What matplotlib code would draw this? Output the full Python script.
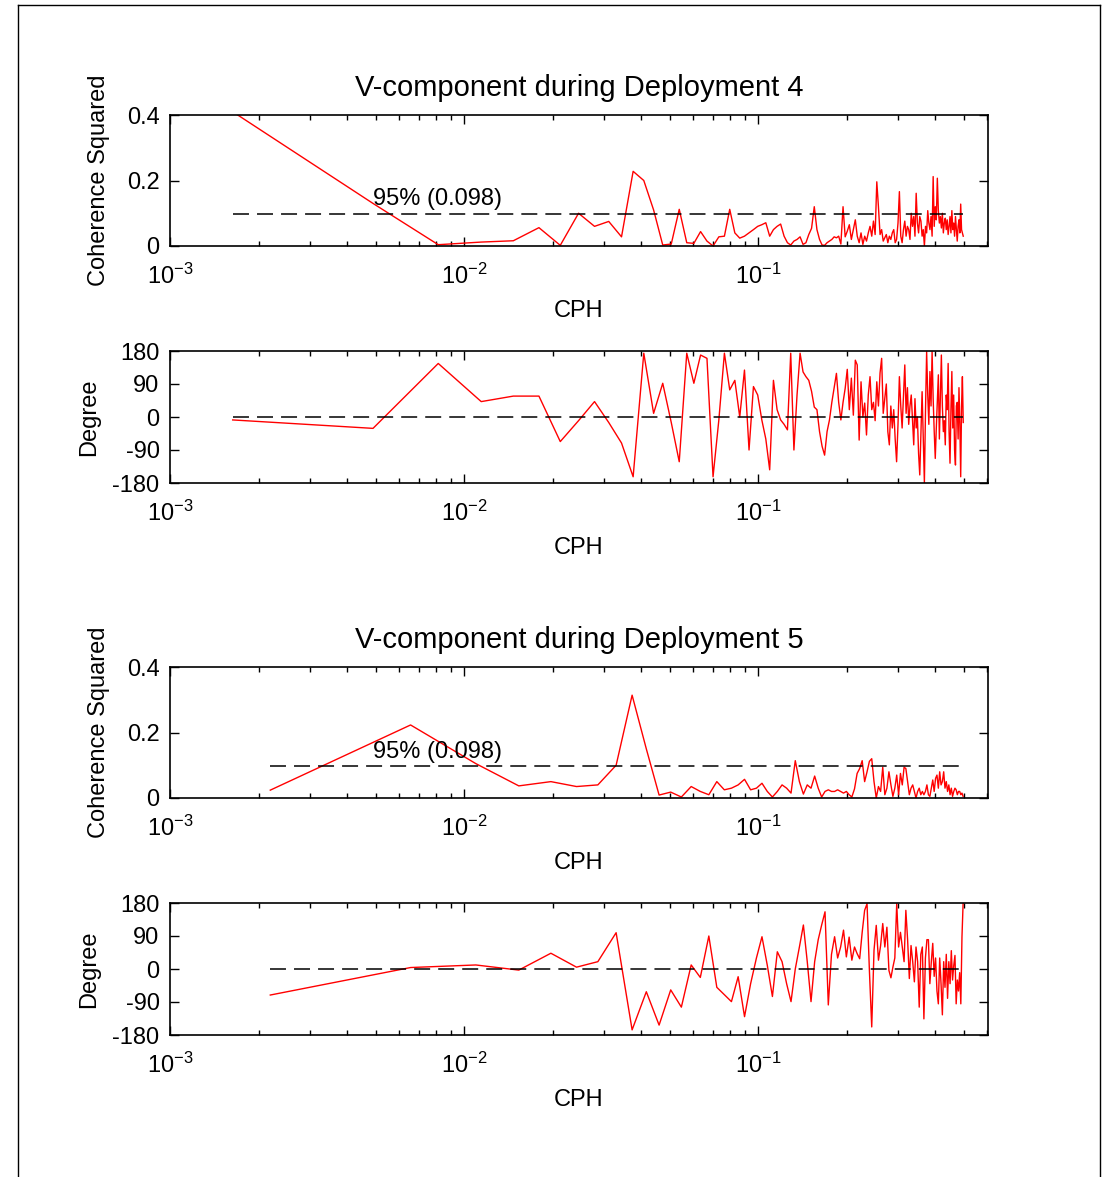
import numpy as np
import matplotlib
matplotlib.use('Agg')
import matplotlib.pyplot as plt
from matplotlib.ticker import FixedLocator, LogLocator, NullFormatter, FuncFormatter
from matplotlib.lines import Line2D

plt.rcParams['font.family'] = ['Liberation Sans', 'DejaVu Sans']
plt.rcParams['mathtext.fontset'] = 'custom'
plt.rcParams['mathtext.rm'] = 'Liberation Sans'
plt.rcParams['mathtext.it'] = 'Liberation Sans:italic'
plt.rcParams['mathtext.bf'] = 'Liberation Sans:bold'
plt.rcParams['axes.unicode_minus'] = False
plt.rcParams['lines.scale_dashes'] = False

# ---------------- data ----------------
# frequency bands (cycles per hour): band centres (k+0.5)*df
n_bands4 = 153
band_width4 = 1 / 306
n_bands5 = 114
band_width5 = 1 / 228
freq4 = (np.arange(n_bands4) + 0.5) * band_width4
freq5 = (np.arange(n_bands5) + 0.5) * band_width5

conf95 = 0.098
titles = ["V-component during Deployment 4", "V-component during Deployment 5"]
coh_ticks = [0, 0.2, 0.4]
coh_ticklabels = ["0", "0.2", "0.4"]
deg_ticks = [-180, -90, 0, 90, 180]
deg_ticklabels = ["-180", "-90", "0", "90", "180"]

coh4 = [0.41, 0.13, 0.004, 0.012, 0.016, 0.056, 0.002, 0.10, 0.06, 0.075,
        0.028, 0.228, 0.20, 0.11, 0.003, 0.006, 0.112, 0.01, 0.008, 0.044,
        0.015, 0.0, 0.028, 0.03, 0.112, 0.04, 0.024, 0.03, 0.04, 0.05,
        0.06, 0.065, 0.071, 0.03, 0.05, 0.06, 0.067, 0.03, 0.01, 0.003,
        0.015, 0.02, 0.028, 0.005, 0.01, 0.035, 0.054, 0.12, 0.05, 0.02,
        0.003, 0.002, 0.01, 0.015, 0.02, 0.028, 0.025, 0.03, 0.006, 0.12,
        0.028, 0.045, 0.065, 0.02, 0.05, 0.08, 0.03, 0.01, 0.04, 0.005,
        0.03, 0.015, 0.04, 0.06, 0.03, 0.076, 0.035, 0.196, 0.12, 0.035,
        0.05, 0.015, 0.025, 0.035, 0.01, 0.03, 0.02, 0.04, 0.05, 0.01,
        0.02, 0.07, 0.166, 0.03, 0.01, 0.05, 0.076, 0.03, 0.06, 0.05,
        0.02, 0.10, 0.06, 0.09, 0.03, 0.161, 0.07, 0.04, 0.09, 0.076,
        0.03, 0.05, 0.0, 0.06, 0.04, 0.108, 0.07, 0.05, 0.09, 0.03,
        0.212, 0.06, 0.12, 0.08, 0.207, 0.108, 0.07, 0.09, 0.055, 0.10,
        0.04, 0.07, 0.085, 0.05, 0.08, 0.035, 0.06, 0.09, 0.04, 0.108,
        0.05, 0.07, 0.03, 0.09, 0.05, 0.015, 0.06, 0.08, 0.04, 0.128,
        0.05, 0.04, 0.03]

phase4 = [-8, -31, 146, 42, 57, 57, -67, -10, 42, -15,
          -71, -163, 174, 10, 92, -15, -122, 174, 92, 169,
          160, -163, -8, 174, 74, 100, 0, 128, -90, 83,
          60, -8, -60, -144, 100, 20, -8, -20, -35, 174,
          -90, 60, 174, 123, 110, 100, 70, 27, 20, -40,
          -80, -104, -40, -8, 40, 80, 119, 40, -8, 40,
          78, 130, 20, 106, 5, 155, 142, -63, 96, 0,
          38, -49, 60, 110, 20, 40, -10, 96, 30, 120,
          160, 10, 50, 90, -40, -76, 30, -30, 20, -60,
          -122, -20, 110, 30, -30, 60, 142, 10, 80, -20,
          30, 60, -10, -76, 50, -30, 0, -100, -158, -40,
          69, -60, -180, 20, 178, 60, -20, 124, 30, 178,
          50, -40, -113, -30, 40, 115, -60, 60, 169, 30,
          -40, -10, -76, 60, 20, 146, -40, -126, 20, 124,
          -30, 60, -90, -131, 30, 40, -60, 80, -20, -163,
          30, 110, -15]

coh5 = [0.024, 0.223, 0.105, 0.037, 0.05, 0.035, 0.04, 0.10, 0.314, 0.15,
        0.009, 0.018, 0.003, 0.035, 0.02, 0.01, 0.05, 0.025, 0.03, 0.04,
        0.057, 0.025, 0.03, 0.045, 0.02, 0.003, 0.02, 0.04, 0.03, 0.015,
        0.114, 0.05, 0.012, 0.04, 0.03, 0.067, 0.03, 0.003, 0.02, 0.025,
        0.02, 0.02, 0.025, 0.02, 0.015, 0.02, 0.01, 0.003, 0.028, 0.075,
        0.09, 0.114, 0.05, 0.08, 0.112, 0.12, 0.05, 0.0, 0.035, 0.02,
        0.094, 0.01, 0.03, 0.08, 0.04, 0.005, 0.03, 0.07, 0.01, 0.075,
        0.04, 0.094, 0.09, 0.05, 0.01, 0.03, 0.04, 0.02, 0.0, 0.02,
        0.03, 0.01, 0.02, 0.01, 0.02, 0.04, 0.01, 0.005, 0.03, 0.055,
        0.02, 0.06, 0.07, 0.03, 0.08, 0.04, 0.05, 0.08, 0.03, 0.05,
        0.02, 0.04, 0.01, 0.03, 0.005, 0.02, 0.03, 0.025, 0.01, 0.02,
        0.02, 0.01, 0.015, 0.005]

phase5 = [-71, 4, 11, -3, 43, 5, 20, 99, -166, -62,
          -153, -57, -104, 11, -23, 90, -50, -70, -89, -21,
          -130, -40, 30, 88, 10, -75, 47, 20, -40, -89,
          0, 60, 120, 20, -89, 20, 80, 120, 156, -98,
          40, 88, 30, 60, 106, 33, 87, 24, 60, 42,
          28, 100, 160, 178, -5, -158, 51, 119, 24, 64,
          124, 60, 114, -4, -24, 5, 30, 178, 60, 100,
          60, 20, 160, 80, -26, 64, 20, -35, 60, 20,
          -104, 40, 60, -136, 30, 80, 80, -40, 20, 70,
          -20, 30, -60, -95, 30, -40, -125, 20, -50, 40,
          -80, 20, -40, 50, -30, 10, 37, -95, -30, -60,
          -10, -95, 87, 178]

# ---------------- figure ----------------
W, H = 1104, 1177
fig = plt.figure(figsize=(W / 100, H / 100), dpi=100)
fig.patch.set_facecolor('white')

def px_axes(left, right, top, bottom):
    return fig.add_axes([left / W, 1 - bottom / H, (right - left) / W, (bottom - top) / H])

ax1 = px_axes(170, 988, 115, 246)
ax2 = px_axes(170, 988, 351, 483)
ax3 = px_axes(170, 988, 667, 798)
ax4 = px_axes(170, 988, 903, 1035)

FS = 17
red_lw = 1.0
dash = (0, (11.5, 5.8))

def style(ax, ylabel, yticks, yticklabels, ylim, ylab_x):
    ax.set_xscale('log')
    ax.set_xlim(1e-3, 0.605)
    ax.set_ylim(*ylim)
    ax.xaxis.set_major_locator(FixedLocator([1e-3, 1e-2, 1e-1]))
    ax.xaxis.set_minor_locator(LogLocator(base=10, subs=np.arange(2, 10), numticks=20))
    ax.xaxis.set_minor_formatter(NullFormatter())
    ax.xaxis.set_major_formatter(FuncFormatter(
        lambda v, p: r'$\mathregular{10^{%d}}$' % int(round(np.log10(v)))))
    ax.set_yticks(yticks)
    ax.set_yticklabels(yticklabels)
    ax.tick_params(which='both', direction='in', top=True, right=True, width=1.0,
                   labelsize=FS, color='black')
    ax.tick_params(which='major', length=6.5)
    ax.tick_params(axis='x', which='major', pad=12.5)
    ax.tick_params(axis='y', which='major', pad=7.5)
    ax.tick_params(which='minor', length=3.6)
    for s in ax.spines.values():
        s.set_linewidth(1.2)
        s.set_color('black')
    ax.set_xlabel('CPH', fontsize=FS, labelpad=8)
    ax.set_ylabel(ylabel, fontsize=FS)
    ax.yaxis.set_label_coords(ylab_x, 0.5)

# Deployment 4 coherence
ax1.plot(freq4, coh4, color='red', lw=red_lw)
ax1.plot([freq4[0], freq4[-1]], [conf95, conf95], color='black', lw=1.1, linestyle=dash)
ax1.text(0.0049, 0.142, '95% (0.098)', fontsize=FS, va='center', ha='left')
style(ax1, 'Coherence Squared', coh_ticks, coh_ticklabels, (0, 0.4), -0.073)
ax1.set_title(titles[0], fontsize=21, pad=14)

# Deployment 4 phase
ax2.plot(freq4, phase4, color='red', lw=red_lw)
ax2.plot([freq4[0], freq4[-1]], [0, 0], color='black', lw=1.1, linestyle=dash)
style(ax2, 'Degree', deg_ticks, deg_ticklabels, (-180, 180), -0.086)

# Deployment 5 coherence
ax3.plot(freq5, coh5, color='red', lw=red_lw)
ax3.plot([freq5[0], freq5[-1]], [conf95, conf95], color='black', lw=1.1, linestyle=dash)
ax3.text(0.0049, 0.14, '95% (0.098)', fontsize=FS, va='center', ha='left')
style(ax3, 'Coherence Squared', coh_ticks, coh_ticklabels, (0, 0.4), -0.073)
ax3.set_title(titles[1], fontsize=21, pad=14)

# Deployment 5 phase
ax4.plot(freq5, phase5, color='red', lw=red_lw)
ax4.plot([freq5[0], freq5[-1]], [0, 0], color='black', lw=1.1, linestyle=dash)
style(ax4, 'Degree', deg_ticks, deg_ticklabels, (-180, 180), -0.086)

# figure border
bx0, bx1, by0 = 18 / W, 1100 / W, 1 - 5 / H
for xs, ys in [([bx0, bx0], [0, by0]), ([bx0, bx1], [by0, by0]), ([bx1, bx1], [0, by0])]:
    fig.add_artist(Line2D(xs, ys, transform=fig.transFigure, color='black', lw=1.0))

fig.savefig('out.png', dpi=100, facecolor='white')
